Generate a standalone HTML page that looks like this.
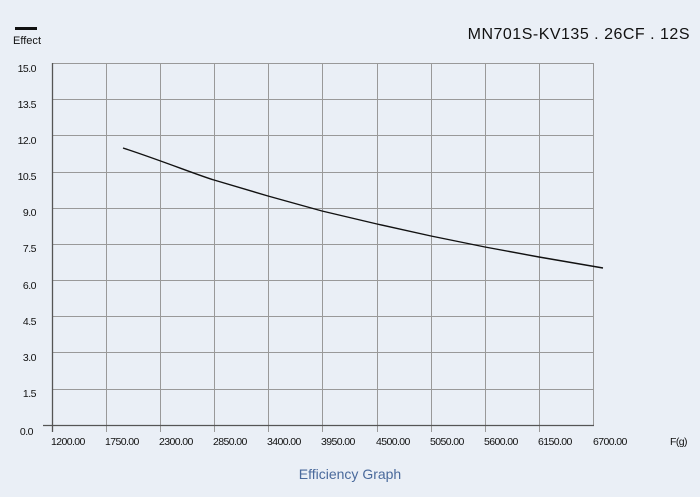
<!DOCTYPE html>
<html><head><style>body{margin:0;background:#eaeff6;}svg{display:block}</style></head><body>
<svg width="700" height="497" xmlns="http://www.w3.org/2000/svg" font-family="Liberation Sans, sans-serif">
<rect width="700" height="497" fill="#eaeff6"/>
<rect x="15" y="27" width="22" height="3" fill="#111"/>
<text x="13" y="44" font-size="11" fill="#111" textLength="28">Effect</text>
<text x="690" y="39" font-size="16" fill="#111" text-anchor="end" letter-spacing="0.5">MN701S-KV135 . 26CF . 12S</text>
<g stroke="#999" stroke-width="1">
<line x1="52" y1="63.5" x2="593" y2="63.5"/>
<line x1="52" y1="99.5" x2="593" y2="99.5"/>
<line x1="52" y1="135.5" x2="593" y2="135.5"/>
<line x1="52" y1="172.5" x2="593" y2="172.5"/>
<line x1="52" y1="208.5" x2="593" y2="208.5"/>
<line x1="52" y1="244.5" x2="593" y2="244.5"/>
<line x1="52" y1="280.5" x2="593" y2="280.5"/>
<line x1="52" y1="316.5" x2="593" y2="316.5"/>
<line x1="52" y1="352.5" x2="593" y2="352.5"/>
<line x1="52" y1="389.5" x2="593" y2="389.5"/>
<line x1="106.5" y1="63" x2="106.5" y2="432"/>
<line x1="160.5" y1="63" x2="160.5" y2="432"/>
<line x1="214.5" y1="63" x2="214.5" y2="432"/>
<line x1="268.5" y1="63" x2="268.5" y2="432"/>
<line x1="322.5" y1="63" x2="322.5" y2="432"/>
<line x1="377.5" y1="63" x2="377.5" y2="432"/>
<line x1="431.5" y1="63" x2="431.5" y2="432"/>
<line x1="485.5" y1="63" x2="485.5" y2="432"/>
<line x1="539.5" y1="63" x2="539.5" y2="432"/>
<line x1="593.5" y1="63" x2="593.5" y2="425"/>
</g>
<g stroke="#555" stroke-width="1.3">
<line x1="52.5" y1="63" x2="52.5" y2="432"/>
<line x1="43" y1="425.5" x2="594" y2="425.5"/>
</g>
<g font-size="10.5" fill="#111" text-anchor="end" letter-spacing="-0.5">
<text x="36" y="72">15.0</text><text x="36" y="108">13.5</text><text x="36" y="144">12.0</text>
<text x="36" y="180">10.5</text><text x="36" y="216">9.0</text><text x="36" y="252">7.5</text>
<text x="36" y="289">6.0</text><text x="36" y="325">4.5</text><text x="36" y="361">3.0</text>
<text x="36" y="397">1.5</text><text x="33" y="435">0.0</text>
</g>
<g font-size="10.5" fill="#111" letter-spacing="-0.6">
<text x="51" y="445">1200.00</text><text x="105" y="445">1750.00</text><text x="159" y="445">2300.00</text>
<text x="213" y="445">2850.00</text><text x="267" y="445">3400.00</text><text x="321" y="445">3950.00</text>
<text x="376" y="445">4500.00</text><text x="430" y="445">5050.00</text><text x="484" y="445">5600.00</text>
<text x="538" y="445">6150.00</text><text x="593" y="445">6700.00</text>
<text x="670" y="445">F(g)</text>
</g>
<path d="M123,148 C160,160 200,176 214,180 L268,196 L322,211 L377,224 L431,236 L485,247 L539,257 L603,268" fill="none" stroke="#111" stroke-width="1.4" stroke-linejoin="round"/>
<text x="350" y="479" font-size="14" fill="#4a6a9c" text-anchor="middle">Efficiency Graph</text>
</svg>
</body></html>
